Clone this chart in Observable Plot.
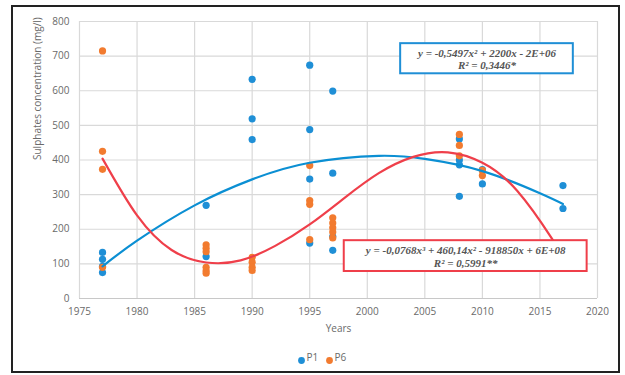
<!DOCTYPE html>
<html>
<head>
<meta charset="utf-8">
<script src="https://cdn.jsdelivr.net/npm/d3@7"></script>
<script src="https://cdn.jsdelivr.net/npm/@observablehq/plot@0.6"></script>
<style>
  html, body { margin: 0; padding: 0; background: #fff; }
  #wrap { position: relative; width: 625px; height: 375px; overflow: hidden; }
  #frame { position: absolute; left: 11px; top: 5px; width: 605px; height: 364px; border: 2px solid #222; pointer-events: none; }
  svg { display: block; }
</style>
</head>
<body>
<div id="wrap"><div id="frame"></div></div>
<script>
// ---- data ----
const xTicks = [1975, 1980, 1985, 1990, 1995, 2000, 2005, 2010, 2015, 2020];
const yTicks = [0, 100, 200, 300, 400, 500, 600, 700, 800];

const p1Year  = [1977,1977,1977,1977, 1986,1986, 1990,1990,1990, 1995,1995,1995,1995, 1997,1997,1997,1997, 2008,2008,2008,2008, 2010,2010, 2017,2017];
const p1Value = [133,113,93,75,       269,121,   633,519,459,    674,488,345,160,      599,362,179,139,      461,400,386,295,      372,331,   326,260];

const p6Year  = [1977,1977,1977,1977, 1986,1986,1986,1986,1986,1986, 1990,1990,1990,1990, 1995,1995,1995,1995, 1997,1997,1997,1997,1997, 2008,2008,2008, 2010,2010];
const p6Value = [715,425,373,90,      155,145,135,90,80,73,          119,105,90,81,          384,283,272,170,      233,218,204,192,175,      474,442,412,    370,355];

// trend curves
const trendP1Year  = [1977,1980,1985,1990,1995,2001,2005,2010,2015,2017];
const trendP1Value = [93,167,269,344,392,412,403,368,304,273];
const trendP6Year  = [1977,1980,1983,1986,1989,1992,1995,1998,2001,2004,2007,2010,2013,2016,2017];
const trendP6Value = [404,240,140,104,110,152,214,290,362,409,422,392,312,175,118];

const seriesNames  = ["P1", "P6"];
const seriesColors = ["#1f8fd6", "#f27b2f"];
const trendColors  = ["#0b8fd3", "#ef3f4a"];

const eqP1 = ["y = -0,5497x² + 2200x - 2E+06", "R² = 0,3446*"];
const eqP6 = ["y = -0,0768x³ + 460,14x² - 918850x + 6E+08", "R² = 0,5991**"];
// annotation boxes (data units)
const boxP1 = {x1: 2002.9, x2: 2017.9, y1: 649, y2: 736, cx: 2010.4, cy: 692};
const boxP6 = {x1: 1998.0, x2: 2019.1, y1: 78, y2: 167, cx: 2008.55, cy: 122};

const yLabel = "Sulphates concentration (mg/l)";
const xLabel = "Years";

// ---- tables ----
const p1 = p1Year.map((x, i) => ({x, y: p1Value[i]}));
const p6 = p6Year.map((x, i) => ({x, y: p6Value[i]}));
const t1 = trendP1Year.map((x, i) => ({x, y: trendP1Value[i]}));
const t6 = trendP6Year.map((x, i) => ({x, y: trendP6Value[i]}));

const eqFont = {fontFamily: "Liberation Serif", fontWeight: "bold", fontStyle: "italic", fontSize: 11, fill: "#555", lineHeight: 1.15};

const chart = Plot.plot({
  width: 625,
  height: 375,
  marginLeft: 79,
  marginRight: 28,
  marginTop: 21,
  marginBottom: 77,
  style: {fontFamily: "Open Sans", fontSize: "10px", color: "#6a6a6a", background: "transparent"},
  x: {domain: [1975, 2020], label: null},
  y: {domain: [0, 800], label: null},
  marks: [
    Plot.gridX(xTicks, {stroke: "#d9d9d9", strokeOpacity: 1, strokeWidth: 1.2}),
    Plot.gridY(yTicks, {stroke: "#d9d9d9", strokeOpacity: 1, strokeWidth: 1.2}),
    Plot.ruleY([0], {stroke: "#c8c8c8", strokeWidth: 1.2}),
    Plot.axisX(xTicks, {tickSize: 0, tickPadding: 9, tickFormat: d => String(d), label: null, fill: "#6a6a6a"}),
    Plot.axisY(yTicks, {tickSize: 0, tickPadding: 10, tickFormat: d => String(d), label: null, fill: "#6a6a6a"}),
    Plot.text([yLabel], {frameAnchor: "left", rotate: -90, dx: -42, fontSize: 10, fill: "#6a6a6a"}),
    Plot.text([xLabel], {frameAnchor: "bottom", dy: 33, fontSize: 10, fill: "#6a6a6a"}),
    Plot.dot(p1, {x: "x", y: "y", r: 3.6, fill: seriesColors[0]}),
    Plot.dot(p6, {x: "x", y: "y", r: 3.6, fill: seriesColors[1]}),
    Plot.line(t1, {x: "x", y: "y", curve: "natural", stroke: trendColors[0], strokeWidth: 2.2}),
    Plot.line(t6, {x: "x", y: "y", curve: "natural", stroke: trendColors[1], strokeWidth: 2.2}),
    Plot.rect([boxP1], {x1: "x1", x2: "x2", y1: "y1", y2: "y2", fill: "white", stroke: seriesColors[0], strokeWidth: 2}),
    Plot.rect([boxP6], {x1: "x1", x2: "x2", y1: "y1", y2: "y2", fill: "white", stroke: trendColors[1], strokeWidth: 2}),
    Plot.text([boxP1], {x: "cx", y: "cy", text: () => eqP1.join("\n"), ...eqFont}),
    Plot.text([boxP6], {x: "cx", y: "cy", text: () => eqP6.join("\n"), ...eqFont}),
    // legend
    Plot.dot([seriesNames[0]], {frameAnchor: "bottom", dx: -37, dy: 62, r: 3.4, fill: seriesColors[0]}),
    Plot.text([seriesNames[0]], {frameAnchor: "bottom", dx: -32, dy: 62, text: d => d, textAnchor: "start", fontSize: 10, fill: "#6a6a6a"}),
    Plot.dot([seriesNames[1]], {frameAnchor: "bottom", dx: -9, dy: 62, r: 3.4, fill: seriesColors[1]}),
    Plot.text([seriesNames[1]], {frameAnchor: "bottom", dx: -4, dy: 62, text: d => d, textAnchor: "start", fontSize: 10, fill: "#6a6a6a"})
  ]
});
document.getElementById("wrap").prepend(chart);
</script>
</body>
</html>
